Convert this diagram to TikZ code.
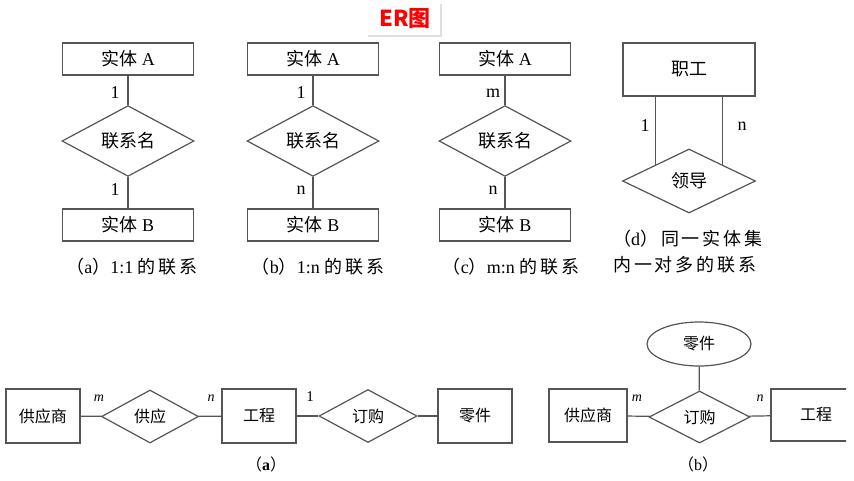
\documentclass[tikz,border=0pt]{standalone}
\usepackage{fontspec}
\setmainfont{Liberation Serif}
\newfontfamily\cjk{Noto Sans CJK SC}
\newfontfamily\cjkwide{Noto Sans CJK SC}[LetterSpace=16]
\usetikzlibrary{shapes.geometric,shadows}
\definecolor{linegray}{HTML}{555555}
\definecolor{titlered}{HTML}{FF0000}

\begin{document}
\begin{tikzpicture}[x=1pt,y=-1pt]
	\tikzstyle{every node}+=[inner sep=0pt]
	\tikzstyle{entity}=[draw=linegray, line width=1.2pt, minimum width=131pt, minimum height=32pt, font=\fontsize{18}{18}\selectfont]
	\tikzstyle{relation}=[diamond, draw=linegray, line width=1.2pt, minimum width=132pt, minimum height=64pt, font=\fontsize{18}{18}\selectfont]
	\tikzstyle{smallentity}=[entity, minimum width=74pt, minimum height=54pt, font=\fontsize{16}{16}\selectfont]
	\tikzstyle{smallrelation}=[relation, minimum width=97pt, minimum height=53pt, font=\fontsize{16}{16}\selectfont]
	\tikzstyle{conn}=[draw=linegray, line width=1.2pt]
	\tikzstyle{card}=[font=\fontsize{18}{18}\selectfont]
	\tikzstyle{smallcard}=[font=\fontsize{14}{14}\selectfont\itshape]
	\tikzstyle{caption}=[font=\fontsize{18}{18}\selectfont]
	\useasboundingbox (0,0) rectangle (854,480);
	\fill [white] (0,0) rectangle (854,480);
	\clip (0,0) rectangle (846,480);
	% title
	\node [fill=white, drop shadow={opacity=0.25}, minimum width=74pt, minimum height=33pt] (titlebox) at (403,18.5) {};
	\node [text=titlered, font=\fontsize{22}{22}\selectfont\cjk\bfseries] (title) at (405,19) {ER图};
	% (a) 1:1
	\node [entity] (ea1) at (128,59) {{\cjk 实体} A};
	\node [relation] (ra) at (128,141) {\cjk 联系名};
	\node [entity] (eb1) at (128,225) {{\cjk 实体} B};
	\draw [conn] (ea1) -- (ra);
	\draw [conn] (ra) -- (eb1);
	\node [card] (ca1) at (115,93) {1};
	\node [card] (ca2) at (115,190) {1};
	\node [caption] (capa) at (132,267) {{\cjkwide （}a{\cjkwide ）}1:1 {\cjkwide 的联系}};
	% (b) 1:n
	\node [entity] (ea2) at (313,59) {{\cjk 实体} A};
	\node [relation] (rb) at (313,141) {\cjk 联系名};
	\node [entity] (eb2) at (313,225) {{\cjk 实体} B};
	\draw [conn] (ea2) -- (rb);
	\draw [conn] (rb) -- (eb2);
	\node [card] (cb1) at (301,93) {1};
	\node [card] (cb2) at (301,190) {n};
	\node [caption] (capb) at (318,267) {{\cjkwide （}b{\cjkwide ）}1:n {\cjkwide 的联系}};
	% (c) m:n
	\node [entity] (ea3) at (505,59) {{\cjk 实体} A};
	\node [relation] (rc) at (505,141) {\cjk 联系名};
	\node [entity] (eb3) at (505,225) {{\cjk 实体} B};
	\draw [conn] (ea3) -- (rc);
	\draw [conn] (rc) -- (eb3);
	\node [card] (cc1) at (493,93) {m};
	\node [card] (cc2) at (493,190) {n};
	\node [caption] (capc) at (511,267) {{\cjkwide （}c{\cjkwide ）}m:n {\cjkwide 的联系}};
	% (d) recursive
	\node [entity, minimum width=132pt, minimum height=53pt] (staff) at (689,69.5) {\cjk 职工};
	\node [relation, minimum width=133pt] (lead) at (689,181) {\cjk 领导};
	\draw [conn] (lead.north west) -- (lead.north west |- staff.south);
	\draw [conn] (lead.north east) -- (lead.north east |- staff.south);
	\node [card] (cd1) at (645,126) {1};
	\node [card] (cd2) at (742,126) {n};
	\node [caption, align=left, anchor=west] (capd) at (613,252) {{\cjkwide （}d{\cjkwide ）同一实体集}\\[8pt]{\cjkwide 内一对多的联系}};
	% bottom (a)
	\node [smallentity] (supa) at (43,416) {\cjk 供应商};
	\node [smallrelation] (supply) at (150,416.5) {\cjk 供应};
	\node [smallentity] (proja) at (259,416) {\cjk 工程};
	\node [smallrelation, minimum width=98pt] (ordera) at (368,416) {\cjk 订购};
	\node [smallentity] (parta) at (475,416) {\cjk 零件};
	\draw [conn] (supa) -- (supply);
	\draw [conn] (supply) -- (proja);
	\draw [conn] (proja) -- (ordera);
	\draw [conn] (ordera) -- (parta);
	\node [smallcard] (ba1) at (99,398) {m};
	\node [smallcard] (ba2) at (211,398) {n};
	\node [font=\fontsize{15}{15}\selectfont] (ba3) at (310,397) {1};
	\node [font=\fontsize{16}{16}\selectfont] (capba) at (266,464) {{\cjk （}\textbf{a}{\cjk ）}};
	% bottom (b)
	\node [smallentity, minimum width=78pt, minimum height=53pt] (supb) at (588,415.5) {\cjk 供应商};
	\node [smallrelation, minimum width=101pt, minimum height=52pt] (orderb) at (699.5,417) {\cjk 订购};
	\node [ellipse, draw=linegray, line width=1.2pt, minimum width=104pt, minimum height=44pt, font=\fontsize{16}{16}\selectfont] (partb) at (699,344) {\cjk 零件};
	\node [smallentity, minimum width=90pt, minimum height=52pt, text width=82pt, align=center] (projb) at (816,415) {\cjk 工程};
	\draw [conn] (supb) -- (orderb);
	\draw [conn] (orderb) -- (projb);
	\draw [conn] (partb) -- (orderb);
	\node [smallcard] (bb1) at (637,398) {m};
	\node [smallcard] (bb2) at (760,398) {n};
	\node [font=\fontsize{16}{16}\selectfont] (capbb) at (698,464) {{\cjk （}b{\cjk ）}};
\end{tikzpicture}
\end{document}
